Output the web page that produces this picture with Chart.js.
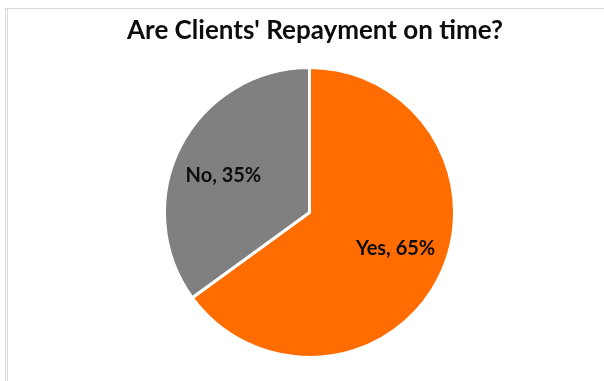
<!DOCTYPE html>
<html>
<head>
<meta charset="utf-8">
<script src="https://cdn.jsdelivr.net/npm/chart.js@4"></script>
<style>
  html, body { margin: 0; padding: 0; background: #fff; }
  #wrap { position: relative; width: 604px; height: 381px; overflow: hidden; }
  #frame { position: absolute; left: 5px; top: 8px; width: 620px; height: 400px;
           border-left: 3px double #d9d9d9; border-top: 1px solid #d9d9d9; box-sizing: border-box; }
  #title { position: absolute; left: 0; width: 630px; top: 14px; text-align: center;
           font-family: Lato, "Open Sans", sans-serif; font-weight: bold; font-size: 26px;
           color: #0d0d0d; line-height: 30px; }
  canvas { position: absolute; left: 0; top: 0; }
</style>
</head>
<body>
<div id="wrap">
  <div id="frame"></div>
  <canvas id="c" width="604" height="381"></canvas>
  <div id="title">Are Clients' Repayment on time?</div>
</div>
<script>
const categories = ["Yes", "No"];
const values = [65, 35];
const colors = ["#FF6D00", "#808080"];

const labelPlugin = {
  id: 'sliceLabels',
  afterDatasetsDraw(chart) {
    const ctx = chart.ctx;
    const meta = chart.getDatasetMeta(0);
    const total = values.reduce((a, b) => a + b, 0);
    ctx.save();
    ctx.font = 'bold 20px Lato, "Open Sans", sans-serif';
    ctx.fillStyle = '#0d0d0d';
    ctx.textAlign = 'center';
    ctx.textBaseline = 'middle';
    meta.data.forEach((arc, i) => {
      const p = arc.getProps(['x', 'y', 'startAngle', 'endAngle', 'outerRadius'], true);
      const mid = (p.startAngle + p.endAngle) / 2 - 0.07;
      const r = p.outerRadius * 0.645;
      const x = p.x + Math.cos(mid) * r;
      const y = p.y + Math.sin(mid) * r;
      const pct = Math.round(values[i] / total * 100);
      ctx.fillText(categories[i] + ', ' + pct + '%', x, y);
    });
    ctx.restore();
  }
};

new Chart(document.getElementById('c'), {
  type: 'pie',
  data: {
    labels: categories,
    datasets: [{
      data: values,
      backgroundColor: colors,
      borderColor: '#ffffff',
      borderWidth: 3
    }]
  },
  options: {
    responsive: false,
    animation: false,
    radius: 145,
    layout: { padding: { left: 15, right: 0, top: 50, bottom: 6 } },
    plugins: {
      legend: { display: false },
      tooltip: { enabled: false },
      title: { display: false }
    }
  },
  plugins: [labelPlugin]
});
</script>
</body>
</html>
